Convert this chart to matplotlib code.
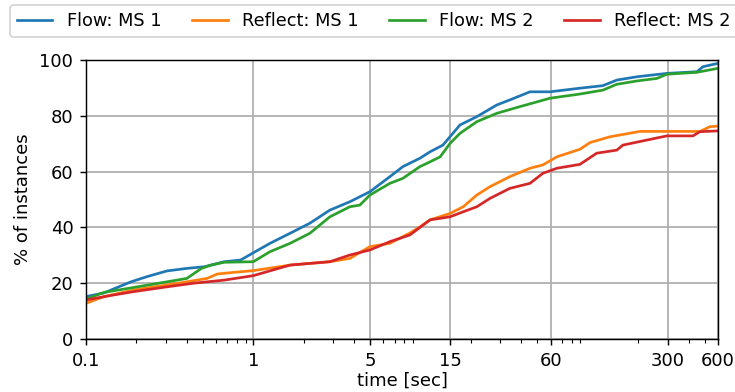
import matplotlib
matplotlib.use("Agg")
import matplotlib.pyplot as plt
from matplotlib.ticker import FixedLocator, FixedFormatter, LogLocator, NullFormatter

# ---- data ----
flow1_t = [0.1, 0.128, 0.147, 0.186, 0.23, 0.305, 0.40, 0.51, 0.67, 0.84, 1.0, 1.26, 1.66, 2.18,
           2.87, 3.78, 4.98, 6.56, 7.85, 9.92, 11.4, 13.6, 15, 17.2, 21.7, 28.6, 34.2, 45.1, 59.4,
           89.7, 123, 149, 197, 297, 449, 488, 600]
flow1_v = [15.2, 16.5, 18, 20.5, 22.3, 24.4, 25.3, 25.9, 27.7, 28.3, 30.9, 34.3, 37.9, 41.5,
           46.2, 49.2, 52.8, 58.2, 61.8, 64.8, 67.1, 69.5, 72.5, 76.7, 79.7, 83.9, 85.7, 88.6, 88.6,
           89.9, 90.8, 92.8, 94, 95.2, 95.8, 97.6, 98.8]

refl1_t = [0.1, 0.128, 0.194, 0.305, 0.40, 0.528, 0.61, 0.77, 1.0, 1.66, 2.87, 3.78, 4.98, 6.56,
           8.64, 9.92, 11.4, 15, 18.0, 21.7, 26.0, 34.2, 45.1, 53.9, 65.3, 89.7, 103, 136, 205,
           468, 537, 600]
refl1_v = [12.8, 15.2, 17.6, 19.4, 20.5, 21.7, 23.3, 23.9, 24.5, 26.5, 27.7, 28.9, 33.1, 34.3,
           38.0, 40.2, 42.7, 45, 47.4, 51.6, 54.6, 58.2, 61.2, 62.4, 65.3, 68, 70.4, 72.5, 74.4,
           74.4, 76.1, 76.3]

flow2_t = [0.1, 0.128, 0.194, 0.305, 0.40, 0.49, 0.56, 0.67, 1.0, 1.26, 1.66, 2.18, 2.87, 3.78,
           4.34, 4.98, 6.56, 7.85, 9.92, 11.4, 13.1, 15, 17.2, 21.7, 28.6, 39.3, 49.7, 59.4, 89.7,
           123, 149, 197, 259, 297, 449, 600]
flow2_v = [14.3, 16.7, 18.5, 20.5, 21.7, 25.3, 26.5, 27.5, 27.7, 31.3, 34.3, 37.9, 43.8, 47.4,
           48, 51.6, 55.8, 57.6, 61.8, 63.5, 65.3, 70.1, 73.7, 77.9, 80.9, 83.3, 85, 86.3, 87.8,
           89.2, 91.3, 92.5, 93.4, 94.9, 95.6, 97]

refl2_t = [0.1, 0.147, 0.194, 0.305, 0.44, 0.67, 1.0, 1.66, 2.87, 3.78, 4.98, 6.56, 8.64, 11.4,
           15, 18, 21.7, 26.0, 34.2, 45.1, 53.9, 65.3, 89.7, 113, 149, 162, 225, 297, 425, 468, 600]
refl2_v = [14, 15.8, 17, 18.7, 20, 21.1, 22.7, 26.5, 27.7, 30.1, 31.9, 34.9, 37.3, 42.7,
           43.8, 45.6, 47.4, 50.4, 54, 55.8, 59.4, 61.2, 62.6, 66.6, 67.7, 69.5, 71.3, 72.8, 72.8,
           74.3, 74.6]

series_labels = ["Flow: MS 1", "Reflect: MS 1", "Flow: MS 2", "Reflect: MS 2"]
x_ticks = [0.1, 1, 5, 15, 60, 300, 600]
x_tick_labels = ["0.1", "1", "5", "15", "60", "300", "600"]
y_ticks = [0, 20, 40, 60, 80, 100]

# ---- plot ----
DPI = 130
fig = plt.figure(figsize=(735 / DPI, 392 / DPI), dpi=DPI)
ax = fig.add_axes([86/735, 53/392, 632/735, 279/392])

colors = ["#1f77b4", "#ff7f0e", "#2ca02c", "#d62728"]
data = [(flow1_t, flow1_v), (refl1_t, refl1_v), (flow2_t, flow2_v), (refl2_t, refl2_v)]
for (t, v), lab, c in zip(data, series_labels, colors):
    ax.plot(t, v, color=c, lw=1.5, label=lab, solid_joinstyle="miter")

ax.set_xscale("log")
ax.set_xlim(0.1, 600)
ax.set_ylim(0, 100)
ax.xaxis.set_major_locator(FixedLocator(x_ticks))
ax.xaxis.set_major_formatter(FixedFormatter(x_tick_labels))
ax.xaxis.set_minor_locator(LogLocator(base=10, subs=range(2, 10), numticks=20))
ax.xaxis.set_minor_formatter(NullFormatter())
ax.set_yticks(y_ticks)
ax.grid(True, which="major", color="#b0b0b0", lw=1)
ax.set_axisbelow(True)
ax.set_xlabel("time [sec]", labelpad=1)
ax.set_ylabel("% of instances")

fig.legend(loc="upper left", bbox_to_anchor=(10/735, 1 - 5/392), ncol=4,
           borderaxespad=0, frameon=True, fontsize=9.8, columnspacing=1.75)

fig.savefig("out.png", dpi=DPI)
